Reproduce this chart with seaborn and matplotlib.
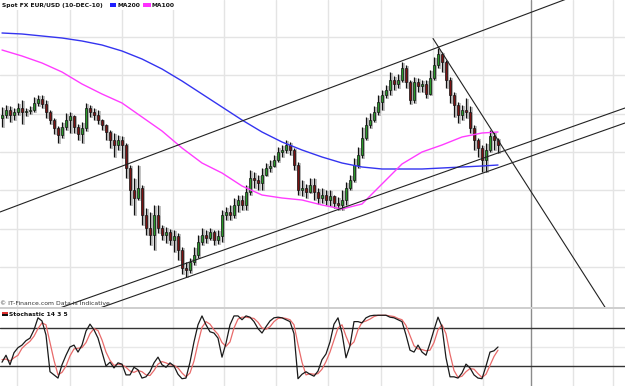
import numpy as np
import matplotlib
matplotlib.use("Agg")
import matplotlib.pyplot as plt
import seaborn as sns
from matplotlib.patches import Rectangle

# ---------------- data (daily-ish bars, EUR/USD, Feb-Dec 2010) ----------------
open0 = 1.362
close = [
    1.365, 1.370, 1.365, 1.368, 1.372, 1.368, 1.369, 1.370, 1.377, 1.381,
    1.376, 1.368, 1.360, 1.352, 1.345, 1.353, 1.360, 1.364, 1.353, 1.346,
    1.352, 1.372, 1.368, 1.365, 1.360, 1.355, 1.348, 1.340, 1.335, 1.340,
    1.335, 1.312, 1.290, 1.282, 1.292, 1.265, 1.252, 1.245, 1.265, 1.252,
    1.245, 1.248, 1.240, 1.244, 1.230, 1.212, 1.210, 1.218, 1.225, 1.238,
    1.245, 1.242, 1.248, 1.240, 1.244, 1.265, 1.268, 1.265, 1.275, 1.280,
    1.275, 1.288, 1.302, 1.300, 1.297, 1.305, 1.312, 1.314, 1.320, 1.328,
    1.330, 1.335, 1.330, 1.315, 1.290, 1.292, 1.288, 1.295, 1.288, 1.282,
    1.285, 1.280, 1.284, 1.277, 1.275, 1.280, 1.292, 1.300, 1.315, 1.325,
    1.342, 1.355, 1.360, 1.368, 1.378, 1.385, 1.390, 1.400, 1.396, 1.400,
    1.412, 1.398, 1.380, 1.398, 1.394, 1.396, 1.386, 1.402, 1.415, 1.426,
    1.418, 1.400, 1.385, 1.375, 1.365, 1.370, 1.368, 1.352, 1.340, 1.332,
    1.320, 1.330, 1.344, 1.340, 1.335]
high = [
    1.373, 1.375, 1.374, 1.372, 1.377, 1.380, 1.372, 1.374, 1.383, 1.385,
    1.385, 1.380, 1.370, 1.362, 1.354, 1.358, 1.367, 1.368, 1.365, 1.356,
    1.358, 1.377, 1.375, 1.372, 1.370, 1.361, 1.356, 1.350, 1.347, 1.345,
    1.344, 1.337, 1.315, 1.302, 1.315, 1.295, 1.272, 1.268, 1.275, 1.275,
    1.255, 1.253, 1.251, 1.250, 1.247, 1.233, 1.218, 1.222, 1.233, 1.245,
    1.252, 1.250, 1.252, 1.250, 1.250, 1.270, 1.273, 1.275, 1.282, 1.285,
    1.285, 1.295, 1.310, 1.308, 1.305, 1.312, 1.317, 1.320, 1.325, 1.333,
    1.335, 1.340, 1.338, 1.332, 1.318, 1.300, 1.296, 1.302, 1.302, 1.292,
    1.292, 1.290, 1.290, 1.285, 1.283, 1.290, 1.298, 1.305, 1.322, 1.333,
    1.353, 1.363, 1.367, 1.374, 1.385, 1.390, 1.395, 1.408, 1.404, 1.406,
    1.418, 1.415, 1.400, 1.403, 1.402, 1.400, 1.400, 1.410, 1.423, 1.432,
    1.428, 1.420, 1.403, 1.388, 1.378, 1.375, 1.382, 1.374, 1.355, 1.342,
    1.335, 1.337, 1.350, 1.348, 1.342]
low = [
    1.353, 1.362, 1.358, 1.360, 1.365, 1.356, 1.364, 1.366, 1.368, 1.374,
    1.372, 1.362, 1.356, 1.346, 1.337, 1.342, 1.350, 1.347, 1.347, 1.340,
    1.337, 1.349, 1.363, 1.360, 1.356, 1.350, 1.340, 1.332, 1.323, 1.330,
    1.322, 1.302, 1.275, 1.265, 1.280, 1.255, 1.245, 1.235, 1.230, 1.247,
    1.240, 1.237, 1.235, 1.228, 1.220, 1.206, 1.203, 1.207, 1.215, 1.222,
    1.235, 1.237, 1.240, 1.235, 1.236, 1.238, 1.260, 1.260, 1.262, 1.268,
    1.270, 1.270, 1.285, 1.292, 1.290, 1.290, 1.304, 1.308, 1.313, 1.318,
    1.323, 1.327, 1.325, 1.310, 1.285, 1.284, 1.282, 1.287, 1.280, 1.276,
    1.277, 1.275, 1.274, 1.272, 1.270, 1.270, 1.275, 1.290, 1.298, 1.312,
    1.322, 1.340, 1.352, 1.358, 1.365, 1.370, 1.382, 1.385, 1.390, 1.392,
    1.398, 1.392, 1.376, 1.377, 1.388, 1.388, 1.382, 1.385, 1.400, 1.412,
    1.408, 1.392, 1.377, 1.363, 1.357, 1.360, 1.362, 1.347, 1.330, 1.323,
    1.308, 1.308, 1.328, 1.330, 1.327]

# moving averages, sampled every 5 bars (bars 0,5,...,120,124)
ma_bars = list(range(0, 125, 5)) + [124]
ma200 = [1.447, 1.446, 1.444, 1.442, 1.439, 1.435, 1.429, 1.421, 1.411, 1.399,
         1.386, 1.373, 1.360, 1.348, 1.338, 1.330, 1.323, 1.317, 1.313, 1.311,
         1.311, 1.311, 1.312, 1.313, 1.314, 1.315]
ma100 = [1.430, 1.424, 1.417, 1.408, 1.396, 1.386, 1.377, 1.363, 1.349, 1.332,
         1.317, 1.307, 1.294, 1.285, 1.282, 1.280, 1.275, 1.271, 1.276, 1.296,
         1.316, 1.328, 1.335, 1.343, 1.347, 1.348]

stoch_k = [26, 37, 22, 41, 49, 53, 60, 64, 77, 96,
           91, 69, 11, 6, 1, 22, 37, 50, 53, 42,
           53, 75, 86, 77, 64, 42, 20, 26, 17, 25,
           23, 6, 6, 18, 14, 1, 3, 11, 25, 34,
           22, 18, 25, 20, 7, 0, 1, 26, 58, 85,
           99, 85, 74, 72, 64, 34, 56, 85, 99, 99,
           93, 99, 97, 90, 79, 72, 82, 91, 96, 97,
           96, 93, 90, 71, 0, 7, 11, 7, 4, 12,
           30, 39, 58, 86, 96, 72, 33, 52, 90, 90,
           88, 96, 99, 100, 100, 100, 100, 97, 96, 93,
           90, 69, 45, 42, 53, 42, 37, 56, 77, 97,
           82, 33, 3, 3, 1, 9, 23, 17, 6, 1,
           0, 20, 42, 44, 50]
stoch_d = [30, 31, 28, 33, 37, 48, 54, 59, 67, 79,
           88, 85, 57, 29, 6, 10, 20, 36, 47, 48,
           49, 57, 71, 79, 76, 61, 42, 29, 21, 23,
           22, 18, 12, 10, 13, 11, 6, 5, 13, 23,
           27, 25, 22, 21, 17, 9, 3, 9, 28, 56,
           81, 90, 86, 77, 70, 57, 51, 58, 80, 94,
           97, 97, 96, 95, 89, 80, 78, 82, 90, 95,
           96, 95, 93, 85, 54, 26, 6, 8, 7, 8,
           15, 27, 42, 61, 80, 85, 67, 52, 58, 77,
           89, 91, 94, 98, 100, 100, 100, 99, 98, 95,
           93, 84, 68, 52, 47, 46, 44, 45, 57, 77,
           85, 71, 39, 13, 2, 4, 11, 16, 15, 8,
           2, 7, 21, 35, 45]

# trend lines drawn on the chart: (x0, price0, x1, price1) in chart x units
trend_lines = [
    (0, 1.268, 625, 1.503),     # upper channel
    (40, 1.165, 625, 1.372),    # lower channel 1
    (80, 1.165, 625, 1.357),    # lower channel 2
    (433, 1.4415, 610, 1.165),  # falling resistance
]
month_x = [17, 70, 122, 173, 224, 276, 328, 381, 433, 483, 573, 613]
year_x = 531

# ---------------- layout ----------------
W, H = 625, 386
sns.set_theme(style="white")
plt.rcParams['font.family'] = ['DejaVu Sans']

fig = plt.figure(figsize=(W / 100, H / 100), dpi=100)
def fy(y):
    return 1 - y / H

ax = fig.add_axes([0, fy(306.5), 1, 306.5 / H])
axs = fig.add_axes([0, 0, 1, (H - 309) / H])

n = len(close)
bar_x = 2 + 4 * np.arange(n)
c = np.array(close)
o = np.concatenate([[open0], c[:-1]])
hi = np.maximum.reduce([np.array(high), o, c])
lo = np.minimum.reduce([np.array(low), o, c])

ax.set_xlim(0, W)
ax.set_ylim(1.4800 - 0.3065, 1.4800)
for a in (ax, axs):
    a.set_xticks(month_x)
    a.grid(True, axis='x', color='#e4e4e4', lw=1)
    a.axvline(year_x, color='#8c8c8c', lw=1, zorder=1)
    a.tick_params(length=0, labelbottom=False, labelleft=False)
    for s in a.spines.values():
        s.set_visible(False)
ax.set_yticks(1.443 - 0.03833 * np.arange(7))
ax.grid(True, axis='y', color='#e4e4e4', lw=1)
ax.set_axisbelow(True)
axs.set_axisbelow(True)

# candles: gray shadow, then black wick and body
dx, dy = 1.5, 0.0012
body_lo = np.minimum(o, c)
body_h = np.maximum(np.abs(c - o), 0.0012)
ax.vlines(bar_x + dx, lo - dy, hi - dy, color='#b0b0b0', lw=1.1, zorder=2)
ax.bar(bar_x + dx, body_h, bottom=body_lo - dy, width=2.7, color='#b0b0b0',
       lw=0, zorder=2)
ax.vlines(bar_x, lo, hi, color='#111111', lw=0.9, zorder=3)
cols = np.where(c >= o, '#2a9a2a', '#7c1212')
ax.bar(bar_x, body_h, bottom=body_lo, width=2.5, color=cols,
       edgecolor='#111111', lw=0.5, zorder=4)

ma_x = bar_x[ma_bars]
sns.lineplot(x=ma_x, y=ma200, ax=ax, color='#3434f0', lw=1.0, sort=False,
             estimator=None, zorder=5)
sns.lineplot(x=ma_x, y=ma100, ax=ax, color='#ff3cff', lw=1.0, sort=False,
             estimator=None, zorder=5)

for x0, p0, x1, p1 in trend_lines:
    ax.plot([x0, x1], [p0, p1], color='#222222', lw=0.8, zorder=6)

# stochastic panel
axs.set_xlim(0, W)
axs.set_ylim(-11.5, 109.9)
axs.set_yticks([50])
axs.grid(True, axis='y', color='#e8e8e8', lw=1)
axs.axhline(80, color='#333333', lw=1, zorder=2)
axs.axhline(20, color='#333333', lw=1, zorder=2)
sns.lineplot(x=bar_x, y=stoch_d, ax=axs, color='#e86a6a', lw=0.9,
             sort=False, estimator=None, zorder=3)
sns.lineplot(x=bar_x, y=stoch_k, ax=axs, color='#1a1a1a', lw=0.9,
             sort=False, estimator=None, zorder=4)

# separator between panels
fig.patches.append(Rectangle((0, fy(309.2)), 1, 2.6 / H, transform=fig.transFigure,
                             color='#cfcfcf', lw=0, zorder=2))

# header texts
fs = 4.3
fig.patches.append(Rectangle((0, fy(9.5)), 180 / W, 9.5 / H, transform=fig.transFigure,
                             color='white', lw=0, zorder=2))
fig.text(2 / W, fy(5.5), "Spot FX EUR/USD (10-DEC-10)", fontsize=fs,
         fontweight='bold', va='center', ha='left', color='#111111', zorder=4)
fig.patches.append(Rectangle((110 / W, fy(7)), 6 / W, 3.5 / H,
                             transform=fig.transFigure, color='#2020ff', lw=0, zorder=3))
fig.text(117 / W, fy(5.5), "MA200", fontsize=fs, fontweight='bold',
         va='center', ha='left', color='#111111', zorder=4)
fig.patches.append(Rectangle((143 / W, fy(7)), 7.5 / W, 3.5 / H,
                             transform=fig.transFigure, color='#ff30ff', lw=0, zorder=3))
fig.text(151 / W, fy(5.5), "MA100", fontsize=fs, fontweight='bold',
         va='center', ha='left', color='#111111', zorder=4)

fig.text(0.5 / W, fy(303.5), "© IT-Finance.com Data is Indicative.", fontsize=4.4,
         va='center', ha='left', color='#333333', zorder=4)

fig.patches.append(Rectangle((2 / W, fy(314)), 6 / W, 1.8 / H,
                             transform=fig.transFigure, color='#e03030', lw=0, zorder=3))
fig.patches.append(Rectangle((2 / W, fy(315.8)), 6 / W, 1.8 / H,
                             transform=fig.transFigure, color='#111111', lw=0, zorder=3))
fig.text(9 / W, fy(314.5), "Stochastic 14 3 5", fontsize=fs, fontweight='bold',
         va='center', ha='left', color='#111111', zorder=4)

fig.savefig("out.png", dpi=100)
